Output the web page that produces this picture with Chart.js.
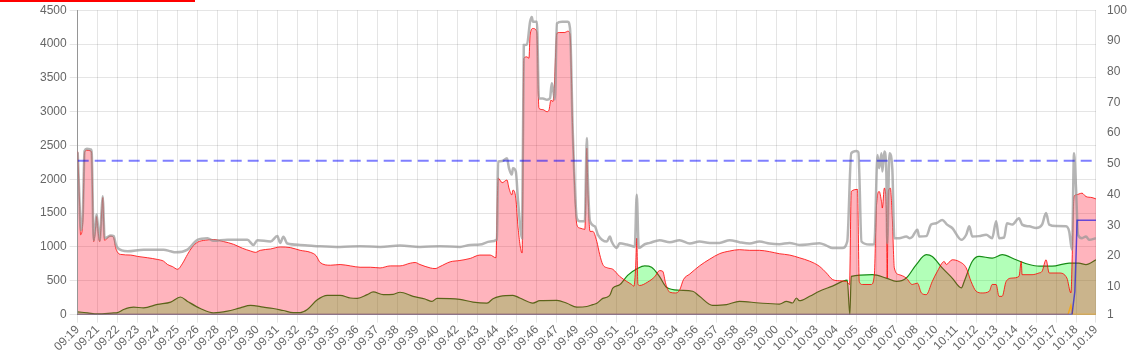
<!DOCTYPE html>
<html>
<head>
<meta charset="utf-8">
<script src="https://cdn.jsdelivr.net/npm/chart.js@4.4.0/dist/chart.umd.min.js"></script>
<style>
    html, body { margin: 0; padding: 0; background: #fff; overflow: hidden; }
    #wrap { position: relative; width: 1139px; height: 350px; }
    #topbar { position: absolute; left: 0; top: 0; width: 195px; height: 1.5px; background: #ff0000; }
</style>
</head>
<body>
<div id="wrap">
    <div id="topbar"></div>
    <canvas id="load-chart"></canvas>
</div>
<script>
/* Time axis: seconds since 09:19:50, one tick every 70 s */
var tickLabels = ['09:19','09:21','09:22','09:23','09:24','09:25','09:26','09:28','09:29','09:30',
                  '09:31','09:32','09:33','09:35','09:36','09:37','09:38','09:39','09:40','09:42',
                  '09:43','09:44','09:45','09:46','09:47','09:49','09:50','09:51','09:52','09:53',
                  '09:54','09:56','09:57','09:58','09:59','10:00','10:01','10:03','10:04','10:05',
                  '10:06','10:07','10:08','10:10','10:11','10:12','10:13','10:14','10:15','10:17',
                  '10:18','10:19'];
var tickStep = 70;
var timeEnd  = 3570;

var grayTimes  = [0,7,10,18,24,32,46,49,56,63,66,70,77,84,88,91,94,102,116,126,133,140,175,231,301,326,343,385,420,455,476,525,595,616,630,676,700,710,721,735,780,850,920,990,1060,1130,1200,1270,1340,1376,1410,1446,1470,1474,1488,1505,1512,1522,1526,1536,1544,1558,1564,1575,1586,1592,1596,1610,1617,1631,1645,1656,1662,1666,1673,1680,1698,1718,1726,1736,1750,1760,1778,1785,1788,1796,1813,1824,1855,1866,1872,1890,1900,1925,1946,1953,1960,1967,1988,2006,2040,2076,2110,2146,2180,2216,2250,2286,2320,2356,2390,2426,2460,2496,2530,2566,2600,2625,2646,2681,2698,2712,2730,2737,2748,2776,2793,2804,2810,2818,2821,2828,2835,2838,2846,2856,2863,2880,2905,2916,2926,2944,2950,2975,2992,3010,3031,3048,3066,3098,3115,3126,3136,3160,3185,3206,3220,3230,3248,3258,3276,3300,3311,3336,3360,3381,3395,3406,3430,3465,3476,3486,3493,3500,3507,3521,3535,3546,3570];
var grayValues = [2400,1600,1250,1500,2420,2450,2440,2400,1100,1350,1480,1350,1100,1550,1750,1450,1130,1140,1170,1160,1050,985,935,960,960,935,920,960,1105,1130,1090,1105,1105,1030,1100,1080,1160,1060,1150,1050,1030,1010,1000,1010,1000,1020,1000,1010,1000,1030,1035,1080,1110,2260,2270,2310,2165,2070,2165,2115,1670,1130,3985,3990,4330,4400,4330,4330,3195,3195,3175,3200,3420,3345,3180,4305,4330,4330,4230,2660,1425,1380,1380,2610,2070,1380,1305,1180,1080,1155,1080,985,1055,1035,1010,1000,1770,985,1040,1060,1100,1070,1100,1050,1080,1060,1060,1100,1070,1050,1080,1050,1040,1060,1030,1040,1055,1020,985,985,1080,2385,2420,2400,1080,1035,1040,2360,2165,2385,2115,2410,2100,1055,2385,2150,1130,1130,1155,1130,1150,1255,1155,1160,1330,1350,1400,1330,1280,1105,1180,1305,1155,1160,1180,1130,1380,1130,1140,1350,1330,1425,1330,1305,1280,1330,1500,1330,1310,1305,1230,960,2385,1870,1180,1130,1155,1105,1130];

var redTimes  = [0,7,10,18,24,32,46,49,56,63,66,70,77,84,88,91,94,102,108,116,126,133,140,150,186,210,245,280,301,315,332,350,368,385,402,420,448,476,511,546,578,606,623,640,676,710,746,780,816,836,850,886,920,956,990,1026,1060,1096,1130,1166,1183,1200,1236,1253,1270,1306,1340,1376,1410,1446,1466,1474,1488,1505,1512,1522,1526,1536,1544,1558,1564,1575,1582,1586,1596,1610,1617,1631,1645,1652,1659,1666,1670,1680,1690,1708,1718,1726,1736,1750,1760,1778,1785,1788,1796,1806,1820,1830,1841,1858,1876,1900,1925,1942,1950,1956,1960,1964,1970,1998,2023,2040,2051,2062,2076,2096,2110,2124,2146,2180,2216,2250,2286,2320,2356,2390,2426,2460,2496,2530,2566,2600,2625,2646,2670,2695,2706,2712,2734,2740,2751,2782,2793,2800,2810,2818,2821,2828,2835,2838,2842,2849,2856,2863,2880,2905,2926,2944,2958,2975,2996,3014,3038,3045,3066,3090,3115,3132,3150,3171,3196,3206,3220,3230,3241,3255,3276,3300,3308,3311,3346,3370,3381,3395,3406,3440,3468,3482,3493,3500,3521,3535,3556,3570];
var redValues = [2410,1600,1180,1400,2400,2430,2420,2380,1080,1300,1450,1300,1080,1500,1730,1400,1100,1120,1150,1160,1140,990,920,890,880,860,840,815,790,740,710,670,760,890,1000,1070,1100,1110,1080,1040,980,940,920,950,970,1000,990,950,920,870,770,730,740,720,700,700,690,720,720,760,770,740,690,680,710,780,800,830,880,880,840,2020,1950,1990,1870,1770,1840,1720,1280,910,3790,3810,3790,4130,4230,4180,3050,3030,3000,3020,3170,3150,3300,4160,4170,4170,4190,4150,2660,1330,1280,1260,2460,1970,1230,1230,1080,890,740,690,670,565,490,445,420,700,1130,450,430,480,560,650,640,450,330,320,360,520,600,720,820,900,940,960,950,950,930,900,880,840,790,715,615,520,500,490,445,1820,1850,490,445,445,590,1575,1820,1670,1575,1870,1575,540,1820,1870,1425,690,590,540,445,465,320,295,490,640,785,740,810,785,690,490,345,320,345,445,445,270,270,490,540,565,785,590,590,615,640,810,615,615,540,320,1745,1770,1795,1745,1730,1710];

var greenTimes  = [0,35,70,126,140,161,196,231,280,326,360,385,430,476,525,570,606,651,686,721,756,780,805,840,875,920,956,980,1015,1036,1071,1106,1130,1176,1218,1242,1260,1340,1386,1435,1456,1480,1526,1550,1596,1620,1680,1715,1750,1785,1806,1820,1841,1855,1866,1876,1900,1928,1964,1988,2012,2040,2065,2110,2156,2180,2226,2275,2320,2390,2460,2485,2506,2520,2530,2566,2600,2646,2698,2707,2712,2786,2835,2870,2905,2940,2975,2996,3031,3066,3098,3108,3136,3160,3206,3241,3290,3336,3370,3416,3476,3510,3535,3570];
var greenValues = [40,25,10,25,30,75,110,100,150,185,260,195,90,25,50,100,135,110,90,60,30,30,75,220,285,285,245,240,295,335,295,300,330,270,230,195,240,225,185,170,235,270,285,245,170,205,210,167,110,120,148,167,240,255,290,390,440,580,685,720,700,560,400,360,345,270,137,148,196,171,156,196,171,245,205,270,345,420,510,0,565,590,540,490,540,740,885,860,690,540,395,490,785,860,835,885,810,740,715,715,760,760,740,810];

/* right axis series */
var limitTimes   = [0, 3570];
var limitValues  = [51, 51];
var queueTimes   = [0, 3486, 3496, 3504, 3570];
var queueValues  = [1, 1, 8.6, 31.7, 31.7];
var errorTimes   = [0, 3472, 3482, 3489, 3570];
var errorValues  = [1, 1, 4, 1, 1];

function toPoints(times, values) {
    return times.map(function(t, i) { return { x: t, y: values[i] }; });
}

var canvas = document.getElementById('load-chart');

new Chart(canvas, {
    type: 'line',
    data: {
        datasets: [
            {
                label: 'Limit',
                data: toPoints(limitTimes, limitValues),
                yAxisID: 'y1',
                borderColor: 'rgba(0,0,255,0.5)',
                borderWidth: 2,
                borderDash: [11, 6],
                pointRadius: 0,
                fill: false
            },
            {
                label: 'Queue',
                data: toPoints(queueTimes, queueValues),
                yAxisID: 'y1',
                borderColor: 'rgba(0,0,230,0.6)',
                borderWidth: 1.5,
                pointRadius: 0,
                tension: 0,
                fill: false
            },
            {
                label: 'Errors',
                data: toPoints(errorTimes, errorValues),
                yAxisID: 'y1',
                borderColor: 'rgba(255,165,0,0.8)',
                borderWidth: 1.5,
                pointRadius: 0,
                tension: 0,
                fill: false
            },
            {
                label: 'Total',
                data: toPoints(grayTimes, grayValues),
                yAxisID: 'y',
                borderColor: 'rgba(150,150,150,0.7)',
                borderWidth: 2.5,
                pointRadius: 0,
                cubicInterpolationMode: 'monotone',
                fill: false
            },
            {
                label: 'Load',
                data: toPoints(redTimes, redValues),
                yAxisID: 'y',
                borderColor: 'rgba(255,0,0,0.8)',
                backgroundColor: 'rgba(255,5,35,0.3)',
                borderWidth: 1,
                pointRadius: 0,
                cubicInterpolationMode: 'monotone',
                fill: 'origin'
            },
            {
                label: 'Capacity',
                data: toPoints(greenTimes, greenValues),
                yAxisID: 'y',
                borderColor: 'rgba(0,128,0,0.9)',
                backgroundColor: 'rgba(0,255,20,0.3)',
                borderWidth: 1.2,
                pointRadius: 0,
                cubicInterpolationMode: 'monotone',
                fill: 'origin'
            }
        ]
    },
    options: {
        responsive: true,
        maintainAspectRatio: false,
        animation: false,
        layout: { padding: { left: 37, right: 9, top: 1, bottom: -4 } },
        plugins: {
            legend: { display: false },
            tooltip: { enabled: false }
        },
        scales: {
            x: {
                type: 'linear',
                min: 0,
                max: timeEnd,
                grid: { color: 'rgba(0,0,0,0.1)' },
                border: { color: 'rgba(0,0,0,0.25)' },
                ticks: {
                    stepSize: tickStep,
                    autoSkip: false,
                    minRotation: 45,
                    maxRotation: 45,
                    padding: 0,
                    color: '#666',
                    callback: function(v, i) { return tickLabels[i]; }
                }
            },
            y: {
                position: 'left',
                min: 0,
                max: 4500,
                grid: { color: 'rgba(0,0,0,0.1)' },
                border: { color: 'rgba(0,0,0,0.35)' },
                ticks: {
                    stepSize: 500,
                    color: '#666',
                    callback: function(v) { return v; }
                }
            },
            y1: {
                position: 'right',
                min: 1,
                max: 100,
                grid: { display: false },
                border: { display: false },
                ticks: { stepSize: 10, color: '#666' }
            }
        }
    }
});
</script>
</body>
</html>
